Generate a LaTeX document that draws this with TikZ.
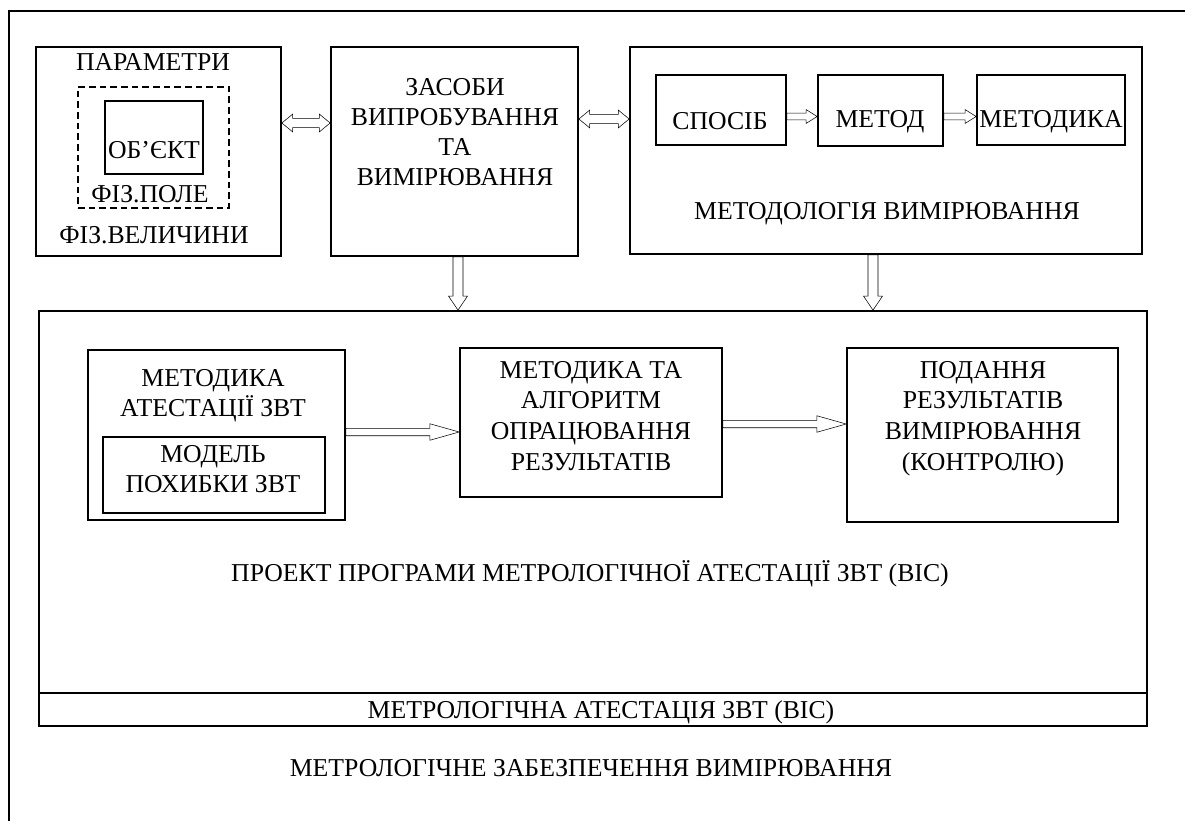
\documentclass[tikz,border=0pt]{standalone}
\usepackage{fontspec}
\setmainfont{Liberation Serif}
\usetikzlibrary{calc}
\tikzset{
  ln/.style={line width=1.3pt, line join=miter},
  box/.style={draw, line width=1.3pt, inner sep=0, rectangle},
  dbox/.style={box, line width=1.2pt, dash pattern=on 5pt off 3pt},
  txt/.style={anchor=base, inner sep=0, font=\fontsize{19.3pt}{23pt}\selectfont},
  rarrow/.style n args={3}{line width=1.4pt, line join=miter, to path={let \p1=(\tikztostart), \p2=(\tikztotarget) in
    (\x1,\y1+#1) -- (\x2-#3,\y1+#1) -- (\x2-#3,\y1+#2) -- (\x2,\y1) -- (\x2-#3,\y1-#2) -- (\x2-#3,\y1-#1) -- (\x1,\y1-#1) -- cycle}},
  dharrow/.style n args={3}{line width=1.4pt, line join=miter, to path={let \p1=(\tikztostart), \p2=(\tikztotarget) in
    (\x1,\y1) -- (\x1+#3,\y1+#2) -- (\x1+#3,\y1+#1) -- (\x2-#3,\y1+#1) -- (\x2-#3,\y1+#2) -- (\x2,\y1) -- (\x2-#3,\y1-#2) -- (\x2-#3,\y1-#1) -- (\x1+#3,\y1-#1) -- (\x1+#3,\y1-#2) -- cycle}},
  darrow/.style n args={3}{line width=1.4pt, line join=miter, to path={let \p1=(\tikztostart), \p2=(\tikztotarget) in
    (\x1-#1,\y1) -- (\x1-#1,\y2+#3) -- (\x1-#2,\y2+#3) -- (\x1,\y2) -- (\x1+#2,\y2+#3) -- (\x1+#1,\y2+#3) -- (\x1+#1,\y1) -- cycle}},
}
\begin{document}
\begin{tikzpicture}[x=0.75pt, y=-0.75pt]
\useasboundingbox (0,0) rectangle (1185,821);
% outer frame (partially visible)
\draw[ln] (9,821) -- (9,11) -- (1185,11);

% top-left group
\node[box, minimum width=245*0.75pt, minimum height=209*0.75pt] (par) at (158.5,151.5) {};
\node[dbox, minimum width=151*0.75pt, minimum height=121*0.75pt] (fp) at (153.5,147.5) {};
\node[box, minimum width=98*0.75pt, minimum height=73*0.75pt] (ob) at (154,137.5) {};
\node[txt] (tpar) at (153,70) {ПАРАМЕТРИ};
\node[txt] (tob) at (154,158) {ОБ’ЄКТ};
\node[txt] (tfp) at (150,202) {ФІЗ.ПОЛЕ};
\node[txt] (tfv) at (154,243) {ФІЗ.ВЕЛИЧИНИ};

% means box
\node[box, minimum width=247*0.75pt, minimum height=209*0.75pt] (zas) at (454.5,151.5) {};
\node[txt] (tz1) at (455,95.5) {ЗАСОБИ};
\node[txt] (tz2) at (455,125.5) {ВИПРОБУВАННЯ};
\node[txt] (tz3) at (455,155.5) {ТА};
\node[txt] (tz4) at (455,185.5) {ВИМІРЮВАННЯ};

% methodology box
\node[box, minimum width=512*0.75pt, minimum height=207*0.75pt] (mtd) at (886,150.5) {};
\node[box, minimum width=130*0.75pt, minimum height=70*0.75pt] (sp) at (721,110) {};
\node[box, minimum width=125*0.75pt, minimum height=71*0.75pt] (md) at (880.5,110.5) {};
\node[box, minimum width=148*0.75pt, minimum height=70*0.75pt] (mk) at (1051,110) {};
\node[txt] (tsp) at (720,129.5) {СПОСІБ};
\node[txt] (tmd) at (880,127.5) {МЕТОД};
\node[txt] (tmk) at (1051,127.5) {МЕТОДИКА};
\node[txt] (tmtd) at (887,219.5) {МЕТОДОЛОГІЯ ВИМІРЮВАННЯ};

% big project box
\node[box, minimum width=1108*0.75pt, minimum height=415*0.75pt] (big) at (593,518.5) {};
\draw[ln] (big.west |- 0,693) -- (big.east |- 0,693);
\node[box, minimum width=257*0.75pt, minimum height=170*0.75pt] (att) at (216.5,435) {};
\node[box, minimum width=222*0.75pt, minimum height=76*0.75pt] (mod) at (214,475) {};
\node[box, minimum width=262*0.75pt, minimum height=149*0.75pt] (alg) at (591,422.5) {};
\node[box, minimum width=271*0.75pt, minimum height=174*0.75pt] (pod) at (982.5,435) {};
\node[txt] (ta1) at (213,386) {МЕТОДИКА};
\node[txt] (ta2) at (213,416) {АТЕСТАЦІЇ ЗВТ};
\node[txt] (tm1) at (213,462) {МОДЕЛЬ};
\node[txt] (tm2) at (213,492) {ПОХИБКИ ЗВТ};
\node[txt] (tg1) at (591,378) {МЕТОДИКА ТА};
\node[txt] (tg2) at (591,408) {АЛГОРИТМ};
\node[txt] (tg3) at (591,439) {ОПРАЦЮВАННЯ};
\node[txt] (tg4) at (591,470) {РЕЗУЛЬТАТІВ};
\node[txt] (tp1) at (983,378) {ПОДАННЯ};
\node[txt] (tp2) at (983,408) {РЕЗУЛЬТАТІВ};
\node[txt] (tp3) at (983,439) {ВИМІРЮВАННЯ};
\node[txt] (tp4) at (983,470) {(КОНТРОЛЮ)};
\node[txt] (tproj) at (590,581.5) {ПРОЕКТ ПРОГРАМИ МЕТРОЛОГІЧНОЇ АТЕСТАЦІЇ ЗВТ (ВІС)};
\node[txt] (tatt) at (601,718.5) {МЕТРОЛОГІЧНА АТЕСТАЦІЯ ЗВТ (ВІС)};
\node[txt] (tms) at (591,776) {МЕТРОЛОГІЧНЕ ЗАБЕЗПЕЧЕННЯ ВИМІРЮВАННЯ};

% arrows
\draw (par.east |- 0,123) to[dharrow={3.5pt}{6.6pt}{8pt}] (zas.west |- 0,123);
\draw (zas.east |- 0,119) to[dharrow={3.5pt}{6.6pt}{8pt}] (mtd.west |- 0,119);
\draw (sp.east |- 0,116.5) to[rarrow={2.6pt}{5.2pt}{8.3pt}] (md.west |- 0,116.5);
\draw (md.east |- 0,116.5) to[rarrow={2.6pt}{5.2pt}{8.3pt}] (mk.west |- 0,116.5);
\draw (zas.south -| 458,0) to[darrow={3.75pt}{7.1pt}{10.5pt}] (big.north -| 458,0);
\draw (mtd.south -| 873,0) to[darrow={3.75pt}{7.1pt}{10.5pt}] (big.north -| 873,0);
\draw (att.east |- 0,432) to[rarrow={2.8pt}{6.2pt}{22pt}] (alg.west |- 0,432);
\draw (alg.east |- 0,424) to[rarrow={2.8pt}{6.2pt}{22pt}] (pod.west |- 0,424);
\end{tikzpicture}
\end{document}
